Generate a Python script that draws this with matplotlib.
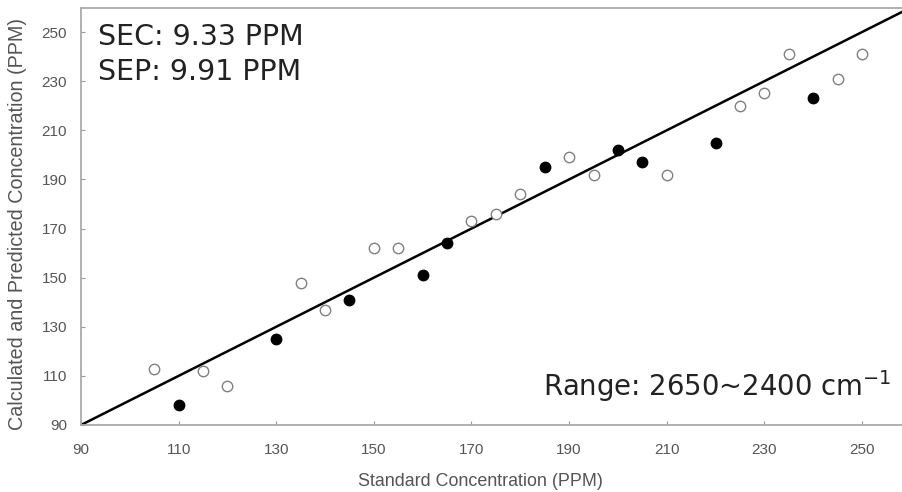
import matplotlib
matplotlib.use("Agg")
import matplotlib.pyplot as plt
import numpy as np

filled_x = [110, 130, 145, 160, 165, 185, 200, 205, 220, 240]
filled_y = [98, 125, 141, 151, 164, 195, 202, 197, 205, 223]
open_x = [105, 115, 120, 135, 140, 150, 155, 170, 175, 180, 190, 195, 210, 225, 230, 235, 245, 250]
open_y = [113, 112, 106, 148, 137, 162, 162, 173, 176, 184, 199, 192, 192, 220, 225, 241, 231, 241]
ticks = [90, 110, 130, 150, 170, 190, 210, 230, 250]
line_x = [90, 260]
line_y = [90, 260]

fig = plt.figure(figsize=(9.03, 4.92), dpi=100)
ax = fig.add_axes([81/903, 1-425/492, 1-81/903, (425-8)/492])
ax.set_xlim(90, 258.4)
ax.set_ylim(90, 259.8)

ax.plot(line_x, line_y, color='black', lw=1.8, zorder=2)
ax.plot(open_x, open_y, 'o', ms=7.5, mfc='white', mec='#808080', mew=1.0, ls='none', zorder=3)
ax.plot(filled_x, filled_y, 'o', ms=7.5, mfc='black', mec='black', ls='none', zorder=3)

ax.set_xticks(ticks)
ax.set_yticks(ticks)
ax.tick_params(direction='in', length=3, color='#999999', labelcolor='#555555', labelsize=11)
ax.tick_params(axis='x', pad=13)
ax.tick_params(axis='y', pad=10)
for lab in ax.get_xticklabels() + ax.get_yticklabels():
    lab.set_fontfamily('Liberation Sans')

for s in ['left', 'bottom', 'top']:
    ax.spines[s].set_color('#aaaaaa')
    ax.spines[s].set_linewidth(1.3)
ax.spines['right'].set_visible(False)

ax.set_xlabel('Standard Concentration (PPM)', fontsize=12.9, color='#555555',
              family='Liberation Sans', va='center', ha='center')
ax.xaxis.set_label_coords((480-81)/822, (425-481)/417)
ax.set_ylabel('Calculated and Predicted Concentration (PPM)', fontsize=14.2, color='#555555',
              family='Liberation Sans', va='center', ha='center')
ax.yaxis.set_label_coords((18-81)/822, (425-224)/417)

fig.text(98/903, 1-45/492, 'SEC: 9.33 PPM', fontsize=20.5, color='#222222', family='DejaVu Sans', va='baseline')
fig.text(98/903, 1-80/492, 'SEP: 9.91 PPM', fontsize=20.5, color='#222222', family='DejaVu Sans', va='baseline')
fig.text(543/903, 1-396/492, r'Range: 2650~2400 cm$^{\mathregular{-1}}$', fontsize=19.8, color='#222222', family='DejaVu Sans', va='baseline')

fig.savefig('out.png', dpi=100)
